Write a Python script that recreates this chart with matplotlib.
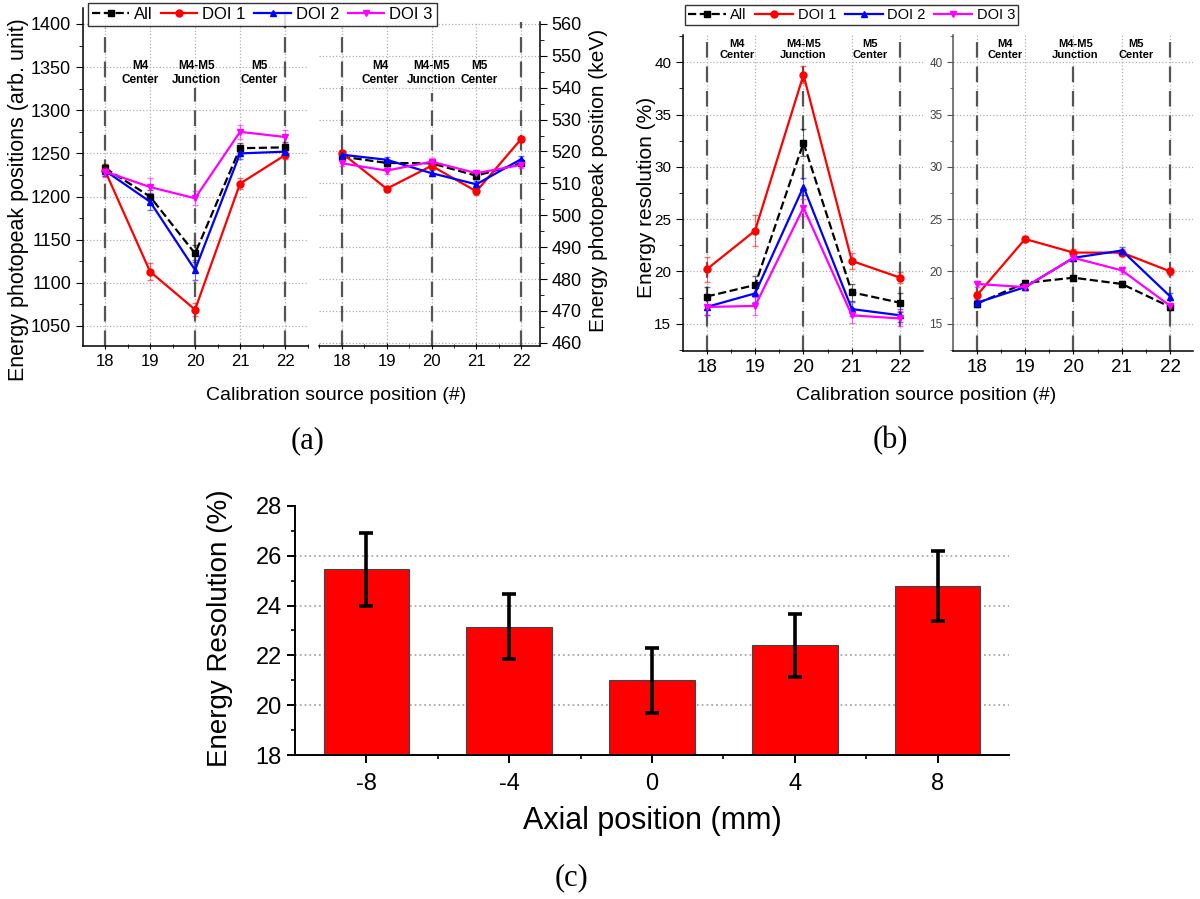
"""Energy photopeak / resolution figure with three panels (a), (b), (c)."""

import matplotlib
matplotlib.use('Agg')
import matplotlib.pyplot as plt
from matplotlib.ticker import MultipleLocator
from matplotlib import transforms

W, H = 1200, 899

positions = [18, 19, 20, 21, 22]
series_names = ['All', 'DOI 1', 'DOI 2', 'DOI 3']

# (a) photopeak positions, left half in arb. unit
peak_all = [1233, 1200, 1134, 1256, 1257]
peak_doi1 = [1230, 1113, 1069, 1215, 1248]
peak_doi2 = [1230, 1194, 1115, 1250, 1252]
peak_doi3 = [1229, 1211, 1198, 1275, 1269]
peak_all_err = [5, 8, 10, 6, 6]
peak_doi1_err = [6, 10, 8, 6, 5]
peak_doi2_err = [6, 10, 12, 6, 6]
peak_doi3_err = [6, 10, 8, 8, 8]

# (a) photopeak positions, right half in keV
kev_all = [518.4, 516.4, 516.3, 512.4, 516.3]
kev_doi1 = [519.5, 508.3, 515.5, 507.5, 523.9]
kev_doi2 = [519.0, 517.4, 513.2, 509.7, 517.6]
kev_doi3 = [516.3, 514.0, 516.8, 513.2, 515.8]
kev_err = [1.0, 1.0, 1.0, 1.0, 1.0]

# (b) energy resolution, left half (%)
res_all = [17.6, 18.7, 32.3, 18.0, 17.0]
res_doi1 = [20.2, 23.9, 38.8, 21.0, 19.4]
res_doi2 = [16.6, 17.9, 28.1, 16.4, 15.8]
res_doi3 = [16.6, 16.7, 26.1, 15.8, 15.5]
res_all_err = [0.9, 0.9, 1.3, 0.8, 0.9]
res_doi1_err = [1.2, 1.5, 0.8, 0.8, 0.5]
res_doi2_err = [0.8, 0.8, 0.8, 0.7, 0.6]
res_doi3_err = [0.8, 0.9, 0.8, 0.7, 0.7]

# (b) energy resolution, right half (%)
res2_all = [16.9, 18.9, 19.4, 18.8, 16.6]
res2_doi1 = [17.7, 23.1, 21.8, 21.8, 20.0]
res2_doi2 = [17.0, 18.5, 21.3, 22.0, 17.6]
res2_doi3 = [18.8, 18.5, 21.3, 20.1, 16.7]
res2_err = [0.3, 0.3, 0.3, 0.3, 0.3]

# (c) energy resolution vs axial position
axial = [-8, -4, 0, 4, 8]
axial_res = [25.45, 23.15, 21.0, 22.4, 24.8]
axial_err = [1.45, 1.3, 1.3, 1.25, 1.4]

region_labels = ['M4\nCenter', 'M4-M5\nJunction', 'M5\nCenter']

colors = ['black', 'red', 'blue', 'magenta']
markers = ['s', 'o', '^', 'v']
styles = ['--', '-', '-', '-']

SANS = 'Liberation Sans'
SERIF = 'Liberation Serif'
plt.rcParams['font.family'] = [SANS, 'DejaVu Sans']
plt.rcParams['axes.linewidth'] = 1.1
plt.rcParams['axes.unicode_minus'] = False


def px_axes(fig, x0, y0, x1, y1):
    """Add axes from pixel box (top-left origin)."""
    return fig.add_axes([x0 / W, 1 - y1 / H, (x1 - x0) / W, (y1 - y0) / H])


def fig_text(fig, x, y, s, **kw):
    """Place text at pixel position."""
    fig.text(x / W, 1 - y / H, s, **kw)


def draw_series(ax, values, errors):
    """Draw the four DOI series with error bars."""
    handles = []
    for vals, errs, c, m, ls in zip(values, errors, colors, markers, styles):
        ax.errorbar(positions, vals, yerr=errs, fmt='none', ecolor=c,
                    elinewidth=0.8, capsize=2, alpha=0.55, zorder=3)
        h, = ax.plot(positions, vals, ls=ls, color=c, marker=m,
                     markersize=5, lw=1.6, zorder=4)
        handles.append(h)
    return handles


def style_split(ax, xlim, ylim, side, junction_top, label_y, label_x,
                label_size=8.5):
    """Common styling for the broken-axis halves."""
    ax.set_xlim(*xlim)
    ax.set_ylim(*ylim)
    for sp in ['top', 'left', 'right']:
        ax.spines[sp].set_visible(False)
    if side:
        ax.spines[side].set_visible(True)
    ax.set_xticks(positions)
    ax.xaxis.set_minor_locator(MultipleLocator(0.5))
    ax.tick_params(axis='x', which='major', direction='inout', length=5)
    ax.tick_params(axis='x', which='minor', direction='inout', length=3)
    ax.grid(True, which='major', ls=':', color='#b0b0b0', lw=0.9, zorder=0)
    ax.set_axisbelow(True)
    ax.patch.set_alpha(0)
    for x in (18, 22):
        ax.axvline(x, ymin=0, ymax=1.0 if x == 22 else junction_top[1],
                   color='#555555', lw=1.6, ls=(0, (7, 4)), zorder=2)
    ax.axvline(20, ymin=0, ymax=junction_top[0], color='#555555', lw=1.6,
               ls=(0, (7, 4)), zorder=2)
    trans = transforms.blended_transform_factory(ax.transData, ax.transAxes)
    for text, xpos in zip(region_labels, label_x):
        ax.text(xpos, label_y, text, transform=trans, ha='center',
                va='center', fontsize=label_size, fontweight='bold',
                multialignment='center', linespacing=1.15, zorder=5)


fig = plt.figure(figsize=(W / 100, H / 100), dpi=100)

# ---------------- panel (a) ----------------
aL = px_axes(fig, 83, 8, 308, 346)
handles = draw_series(aL, [peak_all, peak_doi1, peak_doi2, peak_doi3],
                      [peak_all_err, peak_doi1_err, peak_doi2_err,
                       peak_doi3_err])
style_split(aL, (17.51, 22.51), (1026.8, 1418.5), 'left', (0.763, 0.94),
            0.808, [18.78, 20.04, 21.42])
aL.yaxis.set_major_locator(MultipleLocator(50))
aL.yaxis.set_minor_locator(MultipleLocator(25))
aL.set_yticks(range(1050, 1401, 50))
aL.tick_params(axis='y', which='major', direction='out', length=5,
               labelsize=13)
aL.tick_params(axis='y', which='minor', direction='out', length=3)
aL.tick_params(axis='x', labelsize=12)

aR = px_axes(fig, 319, 22, 540, 346)
draw_series(aR, [kev_all, kev_doi1, kev_doi2, kev_doi3],
            [kev_err, kev_err, kev_err, kev_err])
style_split(aR, (17.49, 22.42), (459.0, 560.6), 'right', (0.78, 0.98),
            0.843, [18.85, 20.0, 21.07])
aR.yaxis.tick_right()
aR.yaxis.set_major_locator(MultipleLocator(10))
aR.yaxis.set_minor_locator(MultipleLocator(5))
aR.tick_params(axis='y', which='major', direction='out', length=5,
               labelsize=13)
aR.tick_params(axis='y', which='minor', direction='out', length=3)
aR.tick_params(axis='x', labelsize=12)

fig_text(fig, 19, 200, 'Energy photopeak positions (arb. unit)',
         rotation=90, ha='center', va='center', fontsize=15.5)
fig_text(fig, 598, 180, 'Energy photopeak position (keV)',
         rotation=90, ha='center', va='center', fontsize=15)
fig_text(fig, 336, 396, 'Calibration source position (#)',
         ha='center', va='center', fontsize=14)
fig_text(fig, 308, 441, '(a)', ha='center', va='center', fontsize=22,
         family=SERIF)

fig.legend(handles, series_names, loc='upper left',
           bbox_to_anchor=(88 / W, 1 - 3 / H), ncol=4, fontsize=12,
           frameon=True, fancybox=False, edgecolor='black',
           handlelength=2.2, handletextpad=0.3, columnspacing=0.5,
           borderpad=0.25, borderaxespad=0).get_frame().set_linewidth(1.0)

# ---------------- panel (b) ----------------
bL = px_axes(fig, 683, 35, 923, 351)
draw_series(bL, [res_all, res_doi1, res_doi2, res_doi3],
            [res_all_err, res_doi1_err, res_doi2_err, res_doi3_err])
style_split(bL, (17.51, 22.47), (12.39, 42.61), 'left', (0.915, 1.0),
            0.953, [18.63, 20.0, 21.38], label_size=8)
bL.yaxis.set_major_locator(MultipleLocator(5))
bL.yaxis.set_minor_locator(MultipleLocator(2.5))
bL.set_yticks(range(15, 41, 5))
bL.tick_params(axis='y', which='major', direction='out', length=5,
               labelsize=11)
bL.tick_params(axis='y', which='minor', direction='out', length=3)
bL.tick_params(axis='x', labelsize=13.5)

bR = px_axes(fig, 953, 35, 1193, 351)
draw_series(bR, [res2_all, res2_doi1, res2_doi2, res2_doi3],
            [res2_err, res2_err, res2_err, res2_err])
style_split(bR, (17.51, 22.47), (12.39, 42.61), 'left', (0.915, 1.0),
            0.953, [18.59, 20.04, 21.3], label_size=8)
bR.spines['left'].set_color('#555555')
bR.yaxis.set_major_locator(MultipleLocator(5))
bR.yaxis.set_minor_locator(MultipleLocator(2.5))
bR.set_yticks(range(15, 41, 5))
bR.tick_params(axis='y', which='major', direction='out', length=4,
               labelsize=8.5, labelcolor='#444444', color='#555555')
bR.tick_params(axis='y', which='minor', direction='out', length=2.5,
               color='#555555')
bR.tick_params(axis='x', labelsize=13.5)

fig_text(fig, 646, 197, 'Energy resolution (%)', rotation=90,
         ha='center', va='center', fontsize=15)
fig_text(fig, 926, 395, 'Calibration source position (#)',
         ha='center', va='center', fontsize=14)
fig_text(fig, 890, 441, '(b)', ha='center', va='center', fontsize=22,
         family=SERIF)

fig.legend(handles, series_names, loc='upper left',
           bbox_to_anchor=(685 / W, 1 - 5 / H), ncol=4, fontsize=10.5,
           frameon=True, fancybox=False, edgecolor='black',
           handlelength=2.6, handletextpad=0.3, columnspacing=0.6,
           borderpad=0.2, borderaxespad=0).get_frame().set_linewidth(1.0)

# ---------------- panel (c) ----------------
c = px_axes(fig, 295, 506, 1009, 755)
c.bar(axial, axial_res, width=2.4, bottom=0, color='#ff0000',
      edgecolor='#2f4f4f', linewidth=0.8, zorder=2)
c.errorbar(axial, axial_res, yerr=axial_err, fmt='none', ecolor='black',
           elinewidth=2.6, capsize=5, capthick=2.6, zorder=3)
c.set_xlim(-10, 10)
c.set_ylim(18, 28)
for sp in ['top', 'right']:
    c.spines[sp].set_visible(False)
c.spines['left'].set_linewidth(1.4)
c.spines['bottom'].set_linewidth(1.4)
c.set_xticks(axial)
c.set_xticks([-6, -2, 2, 6], minor=True)
c.set_yticks(range(18, 29, 2))
c.yaxis.set_minor_locator(MultipleLocator(1))
c.tick_params(axis='both', which='major', direction='out', length=6,
              width=1.4, labelsize=17)
c.tick_params(axis='x', which='major', pad=7)
c.tick_params(axis='both', which='minor', direction='out', length=3,
              width=1.2)
for yv in [20, 22, 24, 26]:
    c.axhline(yv, color='#aaaaaa', ls=':', lw=1.3, zorder=1)
c.set_xlabel('Axial position (mm)', fontsize=22, labelpad=8)
fig_text(fig, 220, 628, 'Energy Resolution (%)', rotation=90,
         ha='center', va='center', fontsize=20)
fig_text(fig, 572, 878, '(c)', ha='center', va='center', fontsize=22,
         family=SERIF)

fig.savefig('out.png', dpi=100)
